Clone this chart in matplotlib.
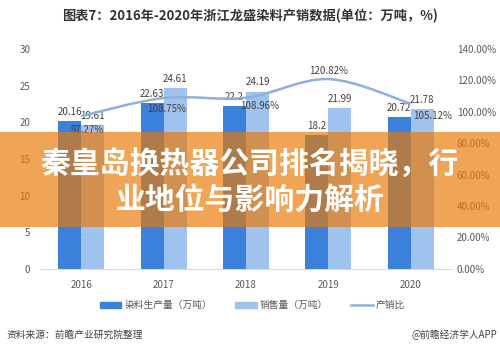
import matplotlib.pyplot as plt
import numpy as np
from matplotlib.path import Path
from matplotlib.patches import PathPatch, Rectangle

plt.rcParams['font.family'] = ['Noto Sans CJK SC', 'DejaVu Sans']

# data
years = ['2016', '2017', '2018', '2019', '2020']
production = [20.16, 22.63, 22.2, 18.2, 20.72]
sales = [19.61, 24.61, 24.19, 21.99, 21.78]
ratio = [97.27, 108.75, 108.96, 120.82, 105.12]
left_ticks = [0, 5, 10, 15, 20, 25, 30]
right_ticks = [0, 20, 40, 60, 80, 100, 120, 140]

dark_blue = '#3b80db'
light_blue = '#9fc2ee'
line_col = '#8db0dc'
tick_col = '#595959'

fig = plt.figure(figsize=(5, 3.6), dpi=100)
ax = fig.add_axes([0.08, 0.253, 0.824, 0.611])
ax2 = ax.twinx()

x = np.arange(len(years))
w = 0.28
ax.bar(x - w / 2, production, w, color=dark_blue, zorder=2)
ax.bar(x + w / 2, sales, w, color=light_blue, zorder=2)

for i in range(len(years)):
    ax.annotate(f'{production[i]}', (x[i] - w / 2, production[i]), xytext=(0, 3),
                textcoords='offset points', ha='center', va='bottom', fontsize=7, color='#404040')
    ax.annotate(f'{sales[i]}', (x[i] + w / 2, sales[i]), xytext=(0, 3),
                textcoords='offset points', ha='center', va='bottom', fontsize=7, color='#404040')

ax.set_xlim(-0.5, len(years) - 0.5)
ax.set_ylim(0, 30)
ax.set_yticks(left_ticks)
ax.set_xticks(x)
ax.set_xticklabels(years)
ax.tick_params(length=0, labelsize=7, colors=tick_col)
ax.tick_params(axis='x', pad=8)
ax.tick_params(axis='y', pad=7)
for s in ['top', 'right', 'left']:
    ax.spines[s].set_visible(False)
ax.spines['bottom'].set_color('#d9d9d9')

# smoothed ratio line (catmull-rom style bezier through the points)
pts = np.column_stack([x, ratio])
verts = [tuple(pts[0])]
codes = [Path.MOVETO]
for i in range(len(pts) - 1):
    p0 = pts[i - 1] if i > 0 else pts[i]
    p1 = pts[i]
    p2 = pts[i + 1]
    p3 = pts[i + 2] if i + 2 < len(pts) else pts[i + 1]
    c1 = p1 + (p2 - p0) / 6
    c2 = p2 - (p3 - p1) / 6
    verts += [tuple(c1), tuple(c2), tuple(p2)]
    codes += [Path.CURVE4] * 3
ax2.add_patch(PathPatch(Path(verts, codes), fill=False, edgecolor=line_col, lw=1.8, zorder=3))

offsets = [(4, -10), (2, -8), (10, -6), (0, 6), (16, -9)]
for i in range(len(years)):
    ax2.annotate(f'{ratio[i]:.2f}%', (x[i], ratio[i]), xytext=offsets[i], textcoords='offset points',
                 ha='center', va='center', fontsize=7, color='#404040')

ax2.set_ylim(0, 140)
ax2.set_yticks(right_ticks)
ax2.set_yticklabels([f'{t:.2f}%' for t in right_ticks])
ax2.tick_params(length=0, labelsize=7, colors=tick_col)
for s in ax2.spines.values():
    s.set_visible(False)

# legend
handles = [Rectangle((0, 0), 1, 1, color=dark_blue), Rectangle((0, 0), 1, 1, color=light_blue),
           plt.Line2D([], [], color=line_col, lw=1.8)]
fig.legend(handles, ['染料生产量（万吨）', '销售量（万吨）', '产销比'], loc='center',
           bbox_to_anchor=(0.505, 0.152), ncol=3, frameon=False, fontsize=7,
           handlelength=2.2, handleheight=0.5, handletextpad=0.3, columnspacing=2.4,
           labelcolor='#595959')

fig.text(0.5, 0.955, '图表7：2016年-2020年浙江龙盛染料产销数据(单位：万吨，%)', ha='center', va='center',
         fontsize=9.5, fontweight='bold', color='#333333')
fig.text(0.014, 0.07, '资料来源：前瞻产业研究院整理', ha='left', va='center', fontsize=7, color='#404040')
fig.text(0.994, 0.07, '@前瞻经济学人APP', ha='right', va='center', fontsize=7, color='#404040')

# orange banner with headline
fig.patches.append(Rectangle((0, 0.369), 1, 0.264, transform=fig.transFigure,
                             facecolor='#e97905', edgecolor='none', lw=0, alpha=0.68, zorder=10))
fig.text(0.5, 0.544, '秦皇岛换热器公司排名揭晓，行', ha='center', va='center', fontsize=21.5,
         fontweight='bold', color='white', zorder=11)
fig.text(0.5, 0.444, '业地位与影响力解析', ha='center', va='center', fontsize=21.5,
         fontweight='bold', color='white', zorder=11)

fig.savefig('out.png')
